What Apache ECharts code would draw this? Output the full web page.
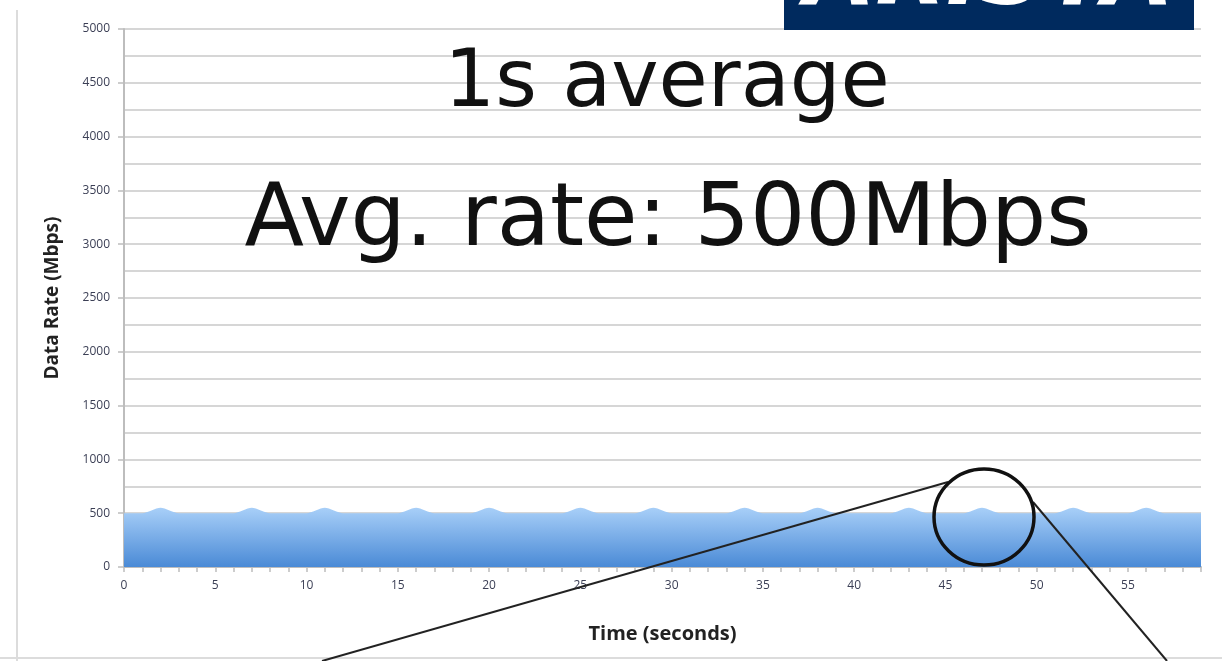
<!DOCTYPE html>
<html>
<head>
<meta charset="utf-8">
<script src="https://cdn.jsdelivr.net/npm/echarts@6/dist/echarts.min.js"></script>
<style>
html,body{margin:0;padding:0;background:#fff;}
#chart{width:1222px;height:661px;}
</style>
</head>
<body>
<div id="chart"></div>
<script>
// time in seconds, one sample per second
var seconds = [0,1,2,3,4,5,6,7,8,9,10,11,12,13,14,15,16,17,18,19,20,21,22,23,24,25,26,27,28,29,
	30,31,32,33,34,35,36,37,38,39,40,41,42,43,44,45,46,47,48,49,50,51,52,53,54,55,56,57,58,59];
// data rate, Mbps (1s average)
var rates = [500,500,550,500,500,500,500,550,500,500,500,550,500,500,500,500,550,500,500,500,
	550,500,500,500,500,550,500,500,500,550,500,500,500,500,550,500,500,500,550,500,
	500,500,500,550,500,500,500,550,500,500,500,500,550,500,500,500,550,500,500,500];
var yTicks = [0,500,1000,1500,2000,2500,3000,3500,4000,4500,5000];

var points = [];
for (var i = 0; i < seconds.length; i++) {
	points.push([seconds[i], rates[i]]);
}

var chart = echarts.init(document.getElementById('chart'));
var labelColor = '#3b3f55';
var gridColor = '#c9c9c9';

var option = {
	backgroundColor: '#fff',
	animation: false,
	grid: {
		left: 124,
		right: 21,
		top: 29,
		bottom: 94
	},
	xAxis: {
		type: 'value',
		min: 0,
		max: 59,
		interval: 1,
		name: 'Time (seconds)',
		nameLocation: 'middle',
		nameGap: 57,
		nameTextStyle: {
			fontFamily: 'Open Sans',
			fontWeight: 'bold',
			fontSize: 20,
			color: '#222'
		},
		axisLine: {
			show: true,
			lineStyle: { color: '#bdbdbd', width: 2 }
		},
		axisTick: {
			show: true,
			length: 5,
			lineStyle: { color: '#bdbdbd', width: 1.5 }
		},
		axisLabel: {
			color: labelColor,
			fontFamily: 'Open Sans',
			fontSize: 12,
			margin: 13,
			formatter: function (v) {
				return v % 5 === 0 ? String(v) : '';
			}
		},
		splitLine: { show: false }
	},
	yAxis: {
		type: 'value',
		min: yTicks[0],
		max: yTicks[yTicks.length - 1],
		interval: 500,
		name: 'Data Rate (Mbps)',
		nameLocation: 'middle',
		nameGap: 62,
		nameTextStyle: {
			fontFamily: 'Open Sans',
			fontWeight: 'bold',
			fontSize: 19,
			color: '#222'
		},
		axisLine: {
			show: true,
			lineStyle: { color: '#bdbdbd', width: 2 }
		},
		axisTick: {
			show: true,
			length: 6,
			lineStyle: { color: '#bdbdbd', width: 1.5 }
		},
		axisLabel: {
			color: labelColor,
			fontFamily: 'Open Sans',
			fontSize: 12,
			margin: 14,
			formatter: function (v) { return String(v); }
		},
		splitLine: {
			lineStyle: { color: gridColor, width: 1.5 }
		},
		minorTick: { show: false, splitNumber: 2 },
		minorSplitLine: {
			show: true,
			lineStyle: { color: gridColor, width: 1.5 }
		}
	},
	series: [
		{
			type: 'line',
			data: points,
			smooth: 0.25,
			symbol: 'none',
			lineStyle: { width: 0 },
			areaStyle: {
				opacity: 1,
				color: new echarts.graphic.LinearGradient(0, 0, 0, 1, [
					{ offset: 0, color: '#a8cff8' },
					{ offset: 1, color: '#4a8ad6' }
				])
			}
		}
	],
	graphic: [
		// slide edges
		{ type: 'line', z: 100, shape: { x1: 17, y1: 10, x2: 17, y2: 661 }, style: { stroke: '#dcdcdc', lineWidth: 2 } },
		{ type: 'line', z: 100, shape: { x1: 0, y1: 658, x2: 1222, y2: 658 }, style: { stroke: '#dcdcdc', lineWidth: 2 } },
		// logo strip
		{ type: 'rect', z: 100, shape: { x: 784, y: 0, width: 410, height: 30 }, style: { fill: '#002a5e' } },
		{
			type: 'text', z: 101, x: 989, y: -20,
			style: {
				text: 'ARISTA',
				fill: '#ffffff',
				font: 'italic bold 92px "DejaVu Sans"',
				textAlign: 'center',
				textVerticalAlign: 'middle'
			}
		},
		// overlaid captions
		{
			type: 'text', z: 100, x: 667, y: 85,
			style: {
				text: '1s average',
				fill: '#111',
				font: '80px "Comic Sans MS", "DejaVu Sans"',
				textAlign: 'center',
				textVerticalAlign: 'middle'
			}
		},
		{
			type: 'text', z: 100, x: 668, y: 222,
			style: {
				text: 'Avg. rate: 500Mbps',
				fill: '#111',
				font: '87px "Comic Sans MS", "DejaVu Sans"',
				textAlign: 'center',
				textVerticalAlign: 'middle'
			}
		},
		// zoom callout
		{ type: 'line', z: 100, shape: { x1: 322, y1: 661, x2: 948, y2: 482 }, style: { stroke: '#222', lineWidth: 2 } },
		{ type: 'line', z: 100, shape: { x1: 1033, y1: 502, x2: 1167, y2: 661 }, style: { stroke: '#222', lineWidth: 2 } },
		{ type: 'ellipse', z: 100, shape: { cx: 984, cy: 517, rx: 50, ry: 48 }, style: { fill: 'none', stroke: '#111', lineWidth: 3.5 } }
	]
};

chart.setOption(option);
</script>
</body>
</html>
